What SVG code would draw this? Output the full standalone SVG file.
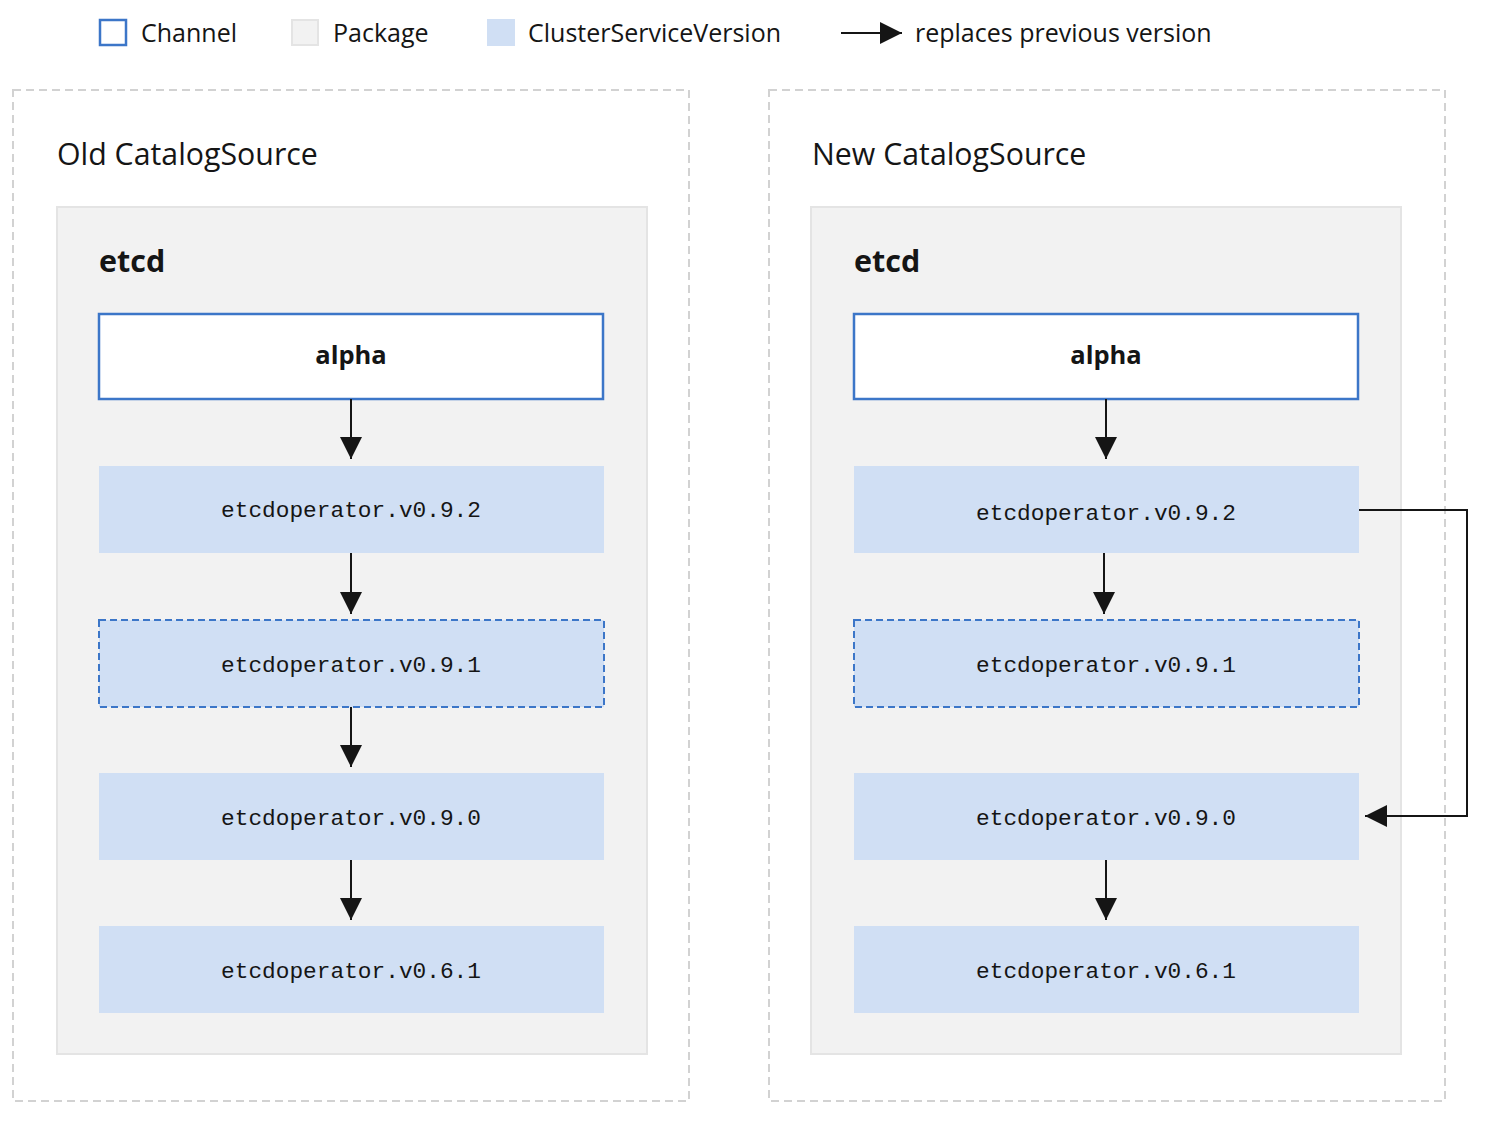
<svg xmlns="http://www.w3.org/2000/svg" width="1486" height="1126" viewBox="0 0 1486 1126">
<defs>
<marker id="ah" viewBox="0 0 10 10" refX="10" refY="5" markerWidth="22" markerHeight="22" markerUnits="userSpaceOnUse" orient="auto">
<path d="M0,0 L10,5 L0,10 z" fill="#151515"/>
</marker>
<style>
.leg{font-family:"Open Sans","Liberation Sans",sans-serif;font-size:25px;fill:#151515}
.title{font-family:"Open Sans","Liberation Sans",sans-serif;font-size:30.3px;fill:#151515}
.pkg{font-family:"Open Sans","Liberation Sans",sans-serif;font-size:30.5px;font-weight:bold;fill:#151515}
.ch{font-family:"Open Sans","Liberation Sans",sans-serif;font-size:25.5px;font-weight:bold;fill:#151515;text-anchor:middle}
.csvt{font-family:"Liberation Mono",monospace;font-size:22.8px;fill:#151515;text-anchor:middle}
.outer{fill:#fff;stroke:#d2d2d2;stroke-width:2;stroke-dasharray:8 5}
.pbox{fill:#f2f2f2;stroke:#e4e4e4;stroke-width:2}
.chbox{fill:#fff;stroke:#3c76c8;stroke-width:2.5}
.csv{fill:#d0dff4}
.csvd{fill:#d0dff4;stroke:#3c76c8;stroke-width:2;stroke-dasharray:7 4}
.conn{fill:none;stroke:#151515;stroke-width:2;marker-end:url(#ah)}
</style>
</defs>
<rect width="1486" height="1126" fill="#fff"/>
<g id="legend">
<rect x="100" y="20" width="26" height="25" fill="#fff" stroke="#3c76c8" stroke-width="2.5"/>
<text class="leg" x="141" y="42">Channel</text>
<rect x="292" y="20" width="26" height="25" fill="#f2f2f2" stroke="#e4e4e4" stroke-width="2"/>
<text class="leg" x="333" y="42">Package</text>
<rect x="487" y="19" width="28" height="27" fill="#d0dff4"/>
<text class="leg" x="528" y="42">ClusterServiceVersion</text>
<line x1="841" y1="33" x2="902" y2="33" class="conn"/>
<text class="leg" x="915" y="42">replaces previous version</text>
</g>
<g id="old-catalogsource">
<rect class="outer" x="13" y="90" width="676" height="1011"/>
<text class="title" x="57" y="165">Old CatalogSource</text>
</g>
<g id="old-etcd">
<rect class="pbox" x="57" y="207" width="590" height="847"/>
<text class="pkg" x="99" y="272">etcd</text>
</g>
<g id="old-alpha">
<rect class="chbox" x="99" y="314" width="504" height="85"/>
<text class="ch" x="351" y="364">alpha</text>
</g>
<g id="old-v092"><rect class="csv" x="99" y="466" width="505" height="87"/><text class="csvt" x="351" y="517">etcdoperator.v0.9.2</text></g>
<g id="old-v091"><rect class="csvd" x="99" y="620" width="505" height="87"/><text class="csvt" x="351" y="672">etcdoperator.v0.9.1</text></g>
<g id="old-v090"><rect class="csv" x="99" y="773" width="505" height="87"/><text class="csvt" x="351" y="825">etcdoperator.v0.9.0</text></g>
<g id="old-v061"><rect class="csv" x="99" y="926" width="505" height="87"/><text class="csvt" x="351" y="978">etcdoperator.v0.6.1</text></g>
<g id="new-catalogsource">
<rect class="outer" x="769" y="90" width="676" height="1011"/>
<text class="title" x="812" y="165">New CatalogSource</text>
</g>
<g id="new-etcd">
<rect class="pbox" x="811" y="207" width="590" height="847"/>
<text class="pkg" x="854" y="272">etcd</text>
</g>
<g id="new-alpha">
<rect class="chbox" x="854" y="314" width="504" height="85"/>
<text class="ch" x="1106" y="364">alpha</text>
</g>
<g id="new-v092"><rect class="csv" x="854" y="466" width="505" height="87"/><text class="csvt" x="1106" y="520">etcdoperator.v0.9.2</text></g>
<g id="new-v091"><rect class="csvd" x="854" y="620" width="505" height="87"/><text class="csvt" x="1106" y="672">etcdoperator.v0.9.1</text></g>
<g id="new-v090"><rect class="csv" x="854" y="773" width="505" height="87"/><text class="csvt" x="1106" y="825">etcdoperator.v0.9.0</text></g>
<g id="new-v061"><rect class="csv" x="854" y="926" width="505" height="87"/><text class="csvt" x="1106" y="978">etcdoperator.v0.6.1</text></g>
<g id="connectors">
<line class="conn" x1="351" y1="399" x2="351" y2="459"/>
<line class="conn" x1="351" y1="553" x2="351" y2="614"/>
<line class="conn" x1="351" y1="707" x2="351" y2="767"/>
<line class="conn" x1="351" y1="860" x2="351" y2="920"/>
<line class="conn" x1="1106" y1="399" x2="1106" y2="459"/>
<line class="conn" x1="1104" y1="553" x2="1104" y2="614"/>
<line class="conn" x1="1106" y1="860" x2="1106" y2="920"/>
<polyline class="conn" points="1359,510 1467,510 1467,816 1365,816"/>
</g>
</svg>
